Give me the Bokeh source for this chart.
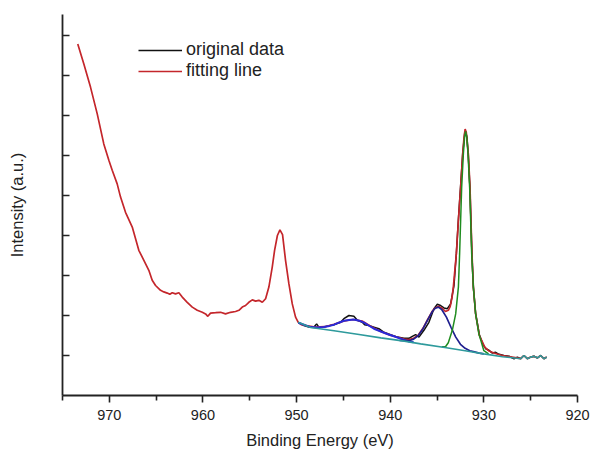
from bokeh.plotting import figure
from bokeh.models import Range1d, FixedTicker, Legend, LegendItem, CustomLabelingPolicy
from bokeh.embed import file_html
from bokeh.resources import INLINE

# ---------------- data ----------------
x_ticks = [920, 930, 940, 950, 960, 970]
x_minor = [925, 935, 945, 955, 965, 975]
y_ticks = [1, 2, 3, 4, 5, 6, 7, 8, 9]

# fitting line (red): full spectrum region + fit over the Cu 2p3/2 region
fit_x = [973.37, 972.72, 972.01, 971.29, 970.59, 970.05, 969.69, 969.16, 968.80, 968.27,
         967.55, 966.85, 966.31, 965.78, 965.42, 965.06, 964.53, 964.18, 963.81, 963.54,
         963.28, 962.93, 962.57, 962.21, 961.68, 961.14, 960.61, 960.07, 959.72, 959.48,
         959.19, 958.65, 958.12, 957.59, 957.05, 956.52, 956.16, 955.80, 955.45, 955.10,
         954.73, 954.38, 954.03, 953.66, 953.31, 952.96, 952.60, 952.35, 952.05, 951.78,
         951.50, 951.18, 950.82, 950.46, 950.11,
         949.82, 949.5, 949.0, 948.0, 947.0, 946.0, 945.0, 944.0, 943.0, 942.0,
         941.0, 940.0, 939.0, 938.5, 938.0, 937.5, 937.0, 936.5, 936.0, 935.5,
         935.2, 934.85, 934.5, 934.1, 933.8, 933.6, 933.4, 933.26, 932.94, 932.72,
         932.48, 932.26, 932.12, 932.0, 931.88, 931.66, 931.48, 931.38, 931.27, 931.12,
         930.88, 930.48, 929.9, 929.5, 929.0, 928.5, 928.0, 927.5, 927.0, 926.5,
         926.07, 925.72, 925.35, 925.0, 924.65, 924.28, 923.93, 923.58, 923.29]
fit_y = [8.79, 8.29, 7.71, 7.04, 6.29, 5.88, 5.63, 5.29, 4.96, 4.58,
         4.21, 3.63, 3.38, 3.13, 2.88, 2.75, 2.63, 2.59, 2.56, 2.53,
         2.57, 2.54, 2.57, 2.46, 2.33, 2.21, 2.13, 2.08, 2.04, 1.98,
         2.06, 2.07, 2.08, 2.04, 2.08, 2.10, 2.13, 2.21, 2.25, 2.33,
         2.39, 2.36, 2.38, 2.33, 2.42, 2.71, 3.21, 3.63, 4.00, 4.14,
         4.02, 3.38, 2.79, 2.29, 1.96,
         1.83, 1.77, 1.75, 1.71, 1.72, 1.78, 1.86, 1.90, 1.86, 1.72,
         1.60, 1.51, 1.44, 1.41, 1.40, 1.43, 1.51, 1.68, 1.90, 2.11,
         2.19, 2.23, 2.19, 2.10, 2.13, 2.22, 2.45, 2.71, 3.54, 4.38,
         5.21, 6.04, 6.45, 6.66, 6.58, 6.04, 5.21, 4.38, 3.54, 2.71,
         2.04, 1.50, 1.21, 1.12, 1.07, 1.03, 1.00, 0.98, 0.96, 0.94,
         0.92, 1.00, 0.92, 0.96, 0.98, 0.94, 1.00, 0.92, 0.96]

# original data (black) over the fitted region
data_x = [949.82, 949.22, 948.69, 948.15, 947.86, 947.62, 947.08, 946.01, 945.30, 944.95,
          944.41, 943.88, 943.51, 942.98, 942.74, 942.28, 941.74, 941.21, 940.67, 939.96,
          939.24, 938.54, 938.00, 937.64, 937.29, 936.93, 936.40, 935.87, 935.33, 934.97,
          934.62, 934.26, 933.90, 933.55, 933.19, 932.94, 932.72, 932.48, 932.26, 932.05,
          931.94, 931.80, 931.66, 931.48, 931.38, 931.27, 931.12, 930.88, 930.48, 930.10,
          929.81, 929.45, 929.09, 928.74, 928.39, 927.85, 927.32, 926.78, 926.42, 926.07,
          925.72, 925.35, 925.00, 924.65, 924.28, 923.93, 923.58, 923.29]
data_y = [1.83, 1.75, 1.71, 1.71, 1.79, 1.71, 1.71, 1.77, 1.83, 1.92,
          2.00, 1.98, 1.88, 1.83, 1.77, 1.75, 1.71, 1.67, 1.58, 1.52,
          1.46, 1.43, 1.43, 1.48, 1.52, 1.46, 1.63, 1.83, 2.17, 2.28,
          2.25, 2.19, 2.17, 2.29, 2.75, 3.54, 4.40, 5.25, 6.05, 6.55,
          6.60, 6.45, 6.00, 5.15, 4.35, 3.50, 2.70, 2.05, 1.52, 1.28,
          1.17, 1.13, 1.06, 1.08, 1.03, 1.00, 0.98, 0.92, 0.96, 0.92,
          1.00, 0.92, 0.96, 0.98, 0.94, 1.00, 0.92, 0.96]

# satellite component (blue)
sat_x = [949.82, 949.0, 948.5, 947.8, 947.1, 946.5, 946.0, 945.5, 944.95, 944.4,
         943.9, 943.3, 942.8, 942.3, 941.74, 941.2, 940.67, 940.1, 939.6, 939.0,
         938.5, 938.0, 937.5]
sat_y = [1.82, 1.75, 1.71, 1.70, 1.71, 1.74, 1.77, 1.82, 1.87, 1.89,
         1.90, 1.87, 1.82, 1.75, 1.67, 1.62, 1.57, 1.52, 1.48, 1.43,
         1.39, 1.35, 1.33]

# shoulder component (navy)
sh_x = [939.0, 938.5, 938.0, 937.5, 937.0, 936.5, 936.0, 935.5, 935.2, 934.85,
        934.5, 934.0, 933.5, 933.0, 932.5, 932.0, 931.5, 931.0, 930.5, 930.0]
sh_y = [1.38, 1.37, 1.37, 1.41, 1.50, 1.67, 1.89, 2.10, 2.18, 2.21,
        2.15, 1.96, 1.70, 1.46, 1.28, 1.18, 1.12, 1.09, 1.06, 1.04]

# main Cu 2p3/2 component (green)
main_x = [934.5, 934.1, 933.8, 933.37, 933.01, 932.72, 932.59, 932.48, 932.37, 932.19,
          932.06, 931.95, 931.83, 931.69, 931.52, 931.41, 931.30, 931.12, 930.88, 930.53,
          930.0, 929.5]
main_y = [1.22, 1.22, 1.32, 1.63, 2.04, 2.71, 3.54, 4.38, 5.21, 6.04,
          6.46, 6.60, 6.46, 6.04, 5.21, 4.38, 3.54, 2.71, 2.04, 1.54,
          1.12, 1.04]

# background (teal)
base_x = [949.82, 948.5, 946.0, 943.5, 941.0, 938.5, 936.75, 934.0, 932.0, 930.0,
          928.0, 926.5, 926.07, 925.72, 925.35, 925.0, 924.65, 924.28, 923.93, 923.58,
          923.29]
base_y = [1.83, 1.70, 1.62, 1.53, 1.44, 1.36, 1.29, 1.195, 1.12, 1.04,
          0.97, 0.93, 0.92, 1.00, 0.92, 0.96, 0.98, 0.94, 1.00, 0.92,
          0.96]

# ---------------- figure ----------------
FONT = "Liberation Sans"
p = figure(width=592, height=452,
           x_range=Range1d(975, 920), y_range=Range1d(0, 9.525),
           output_backend="svg", toolbar_location=None,
           min_border_left=62, min_border_right=15,
           min_border_top=14, min_border_bottom=57)
p.outline_line_color = None
p.grid.visible = False
p.background_fill_color = "white"
p.border_fill_color = "white"

xa = p.xaxis[0]
xa.ticker = FixedTicker(ticks=x_ticks, minor_ticks=x_minor)
xa.axis_label = "Binding Energy (eV)"
xa.axis_label_text_font = FONT
xa.axis_label_text_font_size = "16.5px"
xa.axis_label_text_font_style = "normal"
xa.axis_label_text_color = "#222222"
xa.axis_label_standoff = 8
xa.major_label_text_font = FONT
xa.major_label_text_font_size = "14.5px"
xa.major_label_text_color = "#222222"
xa.major_label_standoff = 7
xa.major_tick_in = 0
xa.major_tick_out = 7
xa.minor_tick_in = 0
xa.minor_tick_out = 5
xa.axis_line_width = 1.8
xa.major_tick_line_width = 1.6
xa.minor_tick_line_width = 1.6
xa.axis_line_color = "#222222"
xa.major_tick_line_color = "#222222"
xa.minor_tick_line_color = "#222222"

ya = p.yaxis[0]
ya.ticker = FixedTicker(ticks=y_ticks, minor_ticks=[])
ya.axis_label = "Intensity (a.u.)"
ya.axis_label_text_font = FONT
ya.axis_label_text_font_size = "16.5px"
ya.axis_label_text_font_style = "normal"
ya.axis_label_text_color = "#222222"
ya.axis_label_standoff = 37
ya.major_label_text_font_size = "0px"
ya.major_label_standoff = 0
ya.major_label_policy = CustomLabelingPolicy(
    code="for (let i = 0; i < indices.size; i++) { indices.unset(i) } return indices")
ya.major_tick_in = 7
ya.major_tick_out = 0
ya.minor_tick_in = 0
ya.minor_tick_out = 0
ya.axis_line_width = 1.8
ya.major_tick_line_width = 1.6
ya.axis_line_color = "#222222"
ya.major_tick_line_color = "#222222"

r_data = p.line(data_x, data_y, line_color="#111111", line_width=1.5)
r_fit = p.line(fit_x, fit_y, line_color="#c4262b", line_width=1.7)
p.line(sat_x, sat_y, line_color="#2a2ad8", line_width=2.0)
p.line(sh_x, sh_y, line_color="#1f1f8f", line_width=1.7)
p.line(main_x, main_y, line_color="#1f8c1f", line_width=1.5)
p.line(base_x, base_y, line_color="#2e9a9c", line_width=1.6)

legend = Legend(items=[LegendItem(label="original data", renderers=[r_data]),
                       LegendItem(label="fitting line", renderers=[r_fit])],
                location=(76, 314))
legend.border_line_color = None
legend.background_fill_alpha = 0
legend.label_text_font = FONT
legend.label_text_font_size = "18px"
legend.label_text_color = "#222222"
legend.glyph_width = 44
legend.glyph_height = 20
legend.label_height = 20
legend.spacing = 0
legend.padding = 0
legend.margin = 0
legend.label_standoff = 4
p.add_layout(legend)

open("out.html", "w").write(file_html(p, INLINE))
